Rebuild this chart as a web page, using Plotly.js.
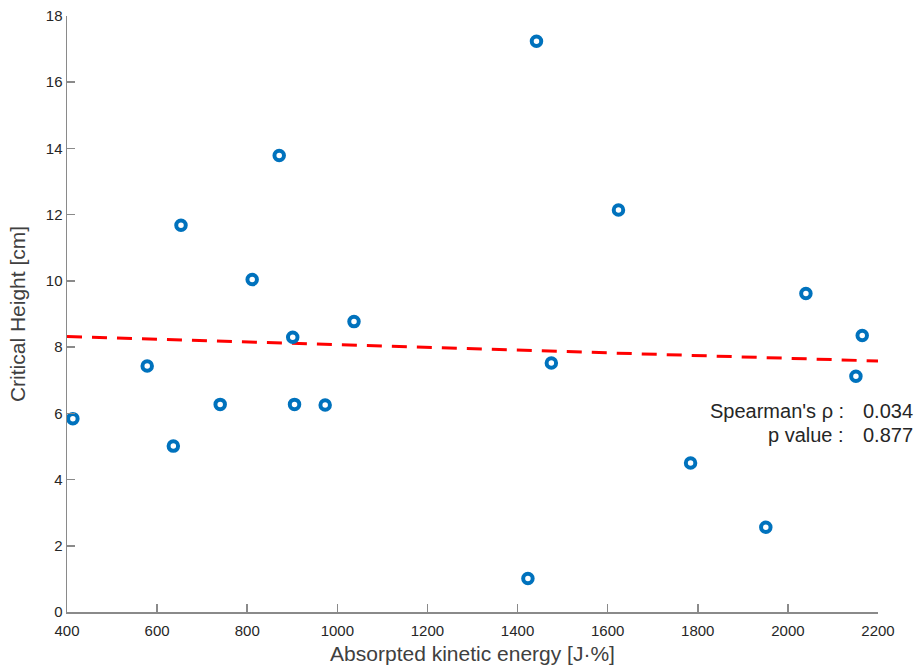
<!DOCTYPE html>
<html>
<head>
<meta charset="utf-8">
<script src="https://cdn.plot.ly/plotly-3.0.1.min.js"></script>
<style>html,body{margin:0;padding:0;background:#fff;}#chart{width:919px;height:668px;}</style>
</head>
<body>
<div id="chart"></div>
<script>
// Absorbed kinetic energy [J·%]
const energy = [413, 578, 636, 653, 740, 811, 871, 901, 905, 973, 1037, 1423, 1442, 1475, 1624, 1784, 1951, 2040, 2151, 2165];
// Critical height [cm]
const height = [5.84, 7.43, 5.01, 11.68, 6.27, 10.04, 13.79, 8.30, 6.27, 6.25, 8.77, 1.01, 17.24, 7.52, 12.14, 4.50, 2.56, 9.62, 7.12, 8.35];
// Fitted trend line end points
const fitX = [400, 2200];
const fitY = [8.32, 7.58];
const statLabels = ["Spearman's ρ :", "p value :"];
const statValues = ["0.034", "0.877"];

const axisColor = '#8a8a8a';
const textColor = '#262626';
const font = "'Liberation Sans', Arial, sans-serif";

const traces = [
  {
    x: fitX, y: fitY, type: 'scatter', mode: 'lines',
    line: {color: '#ff0000', width: 3, dash: '15px,10px'},
    hoverinfo: 'skip'
  },
  {
    x: energy, y: height, type: 'scatter', mode: 'markers',
    marker: {symbol: 'circle-open', size: 9.5, color: '#0072BD', line: {width: 4, color: '#0072BD'}}
  }
];

const annotations = [];
statLabels.forEach((t, i) => {
  const yc = (612 - (411 + i * 24)) / 596;
  annotations.push({
    text: t, xref: 'paper', yref: 'paper', x: (846 - 67) / 811, y: yc,
    xanchor: 'right', yanchor: 'middle', showarrow: false,
    font: {family: font, size: 20, color: textColor}
  });
  annotations.push({
    text: statValues[i], xref: 'paper', yref: 'paper', x: (915 - 67) / 811, y: yc,
    xanchor: 'right', yanchor: 'middle', showarrow: false,
    font: {family: font, size: 20, color: textColor}
  });
});

const layout = {
  width: 919, height: 668,
  margin: {l: 67, r: 41, t: 16, b: 56},
  paper_bgcolor: '#fff', plot_bgcolor: '#fff',
  showlegend: false,
  font: {family: font, color: textColor, size: 15},
  xaxis: {
    range: [400, 2200], tickvals: [400,600,800,1000,1200,1400,1600,1800,2000,2200],
    showgrid: false, zeroline: false, showline: true, linecolor: axisColor, linewidth: 1.5,
    ticks: 'inside', ticklen: 8, tickcolor: axisColor, tickwidth: 1.5,
    ticklabelstandoff: 4,
    tickfont: {family: font, size: 15, color: textColor},
    title: {text: 'Absorpted kinetic energy [J·%]', font: {family: font, size: 21, color: '#404040'}, standoff: 9}
  },
  yaxis: {
    range: [0, 18], tickvals: [0,2,4,6,8,10,12,14,16,18],
    showgrid: false, zeroline: false, showline: true, linecolor: axisColor, linewidth: 1.5,
    ticks: 'inside', ticklen: 8, tickcolor: axisColor, tickwidth: 1.5,
    tickfont: {family: font, size: 15, color: textColor},
    title: {text: 'Critical Height [cm]', font: {family: font, size: 21, color: '#404040'}, standoff: 14}
  },
  annotations: annotations
};

Plotly.newPlot('chart', traces, layout, {displayModeBar: false, staticPlot: true});
</script>
</body>
</html>
